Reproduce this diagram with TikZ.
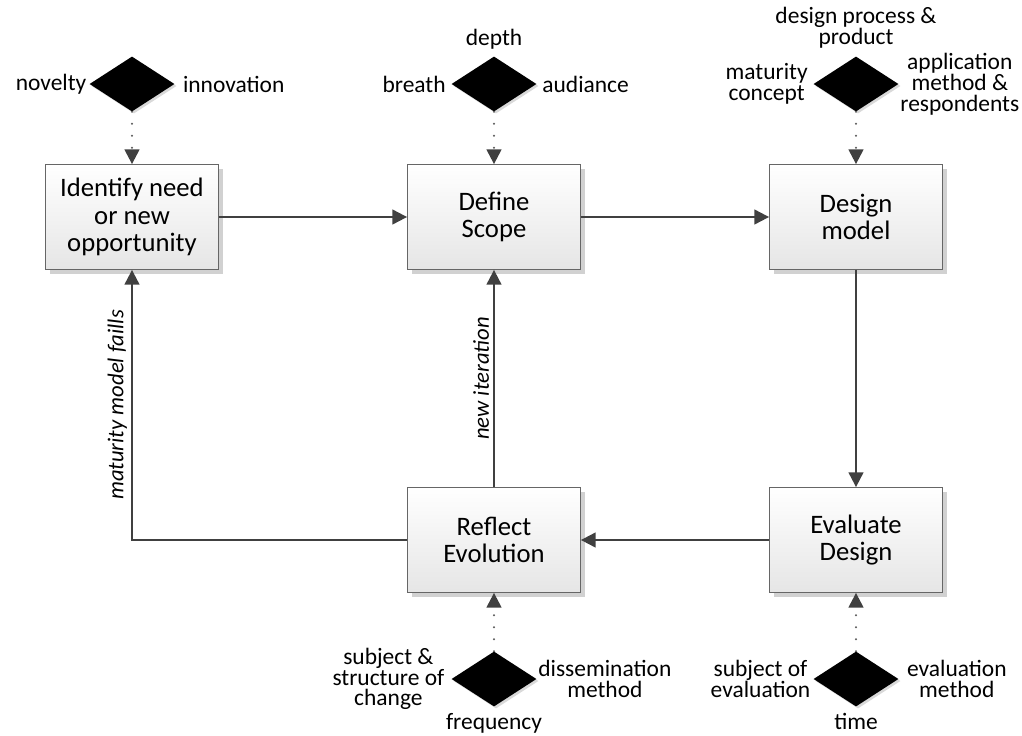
\documentclass[tikz,border=0pt]{standalone}
\usepackage{fontspec}
\setmainfont{Carlito}
\usepackage{tikz}
\usetikzlibrary{shapes.geometric, arrows.meta, positioning, shadows}
\definecolor{linegray}{HTML}{404040}
\tikzstyle{arrow} = [line width=1.5pt, draw=linegray, -{Triangle[length=11pt,width=11pt]}]
\tikzstyle{dots} = [line width=1.7pt, draw=black!65, dash pattern=on 0pt off 9pt, line cap=round, -{Triangle[length=11pt,width=11pt,color=linegray]}]
\tikzstyle{block} = [rectangle, draw=black!60, line width=0.6pt, top color=white, bottom color=black!10, minimum width=129.75pt, minimum height=78.75pt, align=center, font=\fontsize{20}{20.5}\selectfont, drop shadow={shadow xshift=3pt, shadow yshift=-3pt, fill=black!18, opacity=1}]
\tikzstyle{gem} = [diamond, fill=black, minimum width=63.75pt, minimum height=41.25pt, inner sep=0pt, drop shadow={shadow xshift=1.5pt, shadow yshift=-1.5pt, fill=black!15, opacity=1}]
\tikzstyle{lbl} = [inner sep=1pt, align=center, font=\fontsize{17.6}{15.6}\selectfont]
\tikzstyle{note} = [inner sep=3pt, font=\fontsize{17}{17}\selectfont\itshape]

\begin{document}
\begin{tikzpicture}[x=0.75pt, y=-0.75pt, node distance=271.5pt]
    \useasboundingbox (0,0) rectangle (1022,736);

    % process steps
    \node (need)     [block] at (132,217) {Identify need\\or new\\opportunity};
    \node (scope)    [block, right of=need]  {Define\\Scope};
    \node (design)   [block, right of=scope] {Design\\model};
    \node (evaluate) [block, below of=design, yshift=29.25pt] {Evaluate\\Design};
    \node (reflect)  [block, left of=evaluate] {Reflect\\Evolution};

    % decision points
    \node (dneed)    [gem, above of=need,     node distance=99.75pt] {};
    \node (dscope)   [gem, above of=scope,    node distance=99.75pt] {};
    \node (ddesign)  [gem, above of=design,   node distance=99.75pt] {};
    \node (dreflect) [gem, below of=reflect,  node distance=104.25pt] {};
    \node (devalu)   [gem, below of=evaluate, node distance=104.25pt] {};

    \node (novelty)    [lbl, left=1pt of dneed]  {novelty};
    \node (innovation) [lbl, right=5pt of dneed] {innovation};
    \node (depth)      [lbl, above=4pt of dscope]  {depth};
    \node (breath)     [lbl, left=3pt of dscope]   {breath};
    \node (audiance)   [lbl, right=3pt of dscope]  {audiance};
    \node (process)    [lbl, above=5pt of ddesign] {design process \&\\product};
    \node (concept)    [lbl, left=3pt of ddesign]  {maturity\\concept};
    \node (method)     [lbl, right=0pt of ddesign] {application\\method \&\\respondents};
    \node (change)     [lbl, left=4pt of dreflect]  {subject \&\\structure of\\change};
    \node (dissem)     [lbl, right=0pt of dreflect] {dissemination\\method};
    \node (frequency)  [lbl, below=4pt of dreflect] {frequency};
    \node (subject)    [lbl, left=1pt of devalu]  {subject of\\evaluation};
    \node (evmethod)   [lbl, right=5pt of devalu] {evaluation\\method};
    \node (time)       [lbl, below=4pt of devalu] {time};

    \draw [arrow] (need)     -- (scope);
    \draw [arrow] (scope)    -- (design);
    \draw [arrow] (design)   -- (evaluate);
    \draw [arrow] (evaluate) -- (reflect);
    \draw [arrow] (reflect)  -- node[note, midway, above, sloped]{new iteration} (scope);
    \draw [arrow] (reflect.west) -| node[note, pos=0.75, above, sloped]{maturity model faills} (need.south);

    \draw [dots] (dneed)    -- (need);
    \draw [dots] (dscope)   -- (scope);
    \draw [dots] (ddesign)  -- (design);
    \draw [dots] (dreflect) -- (reflect);
    \draw [dots] (devalu)   -- (evaluate);
\end{tikzpicture}
\end{document}
